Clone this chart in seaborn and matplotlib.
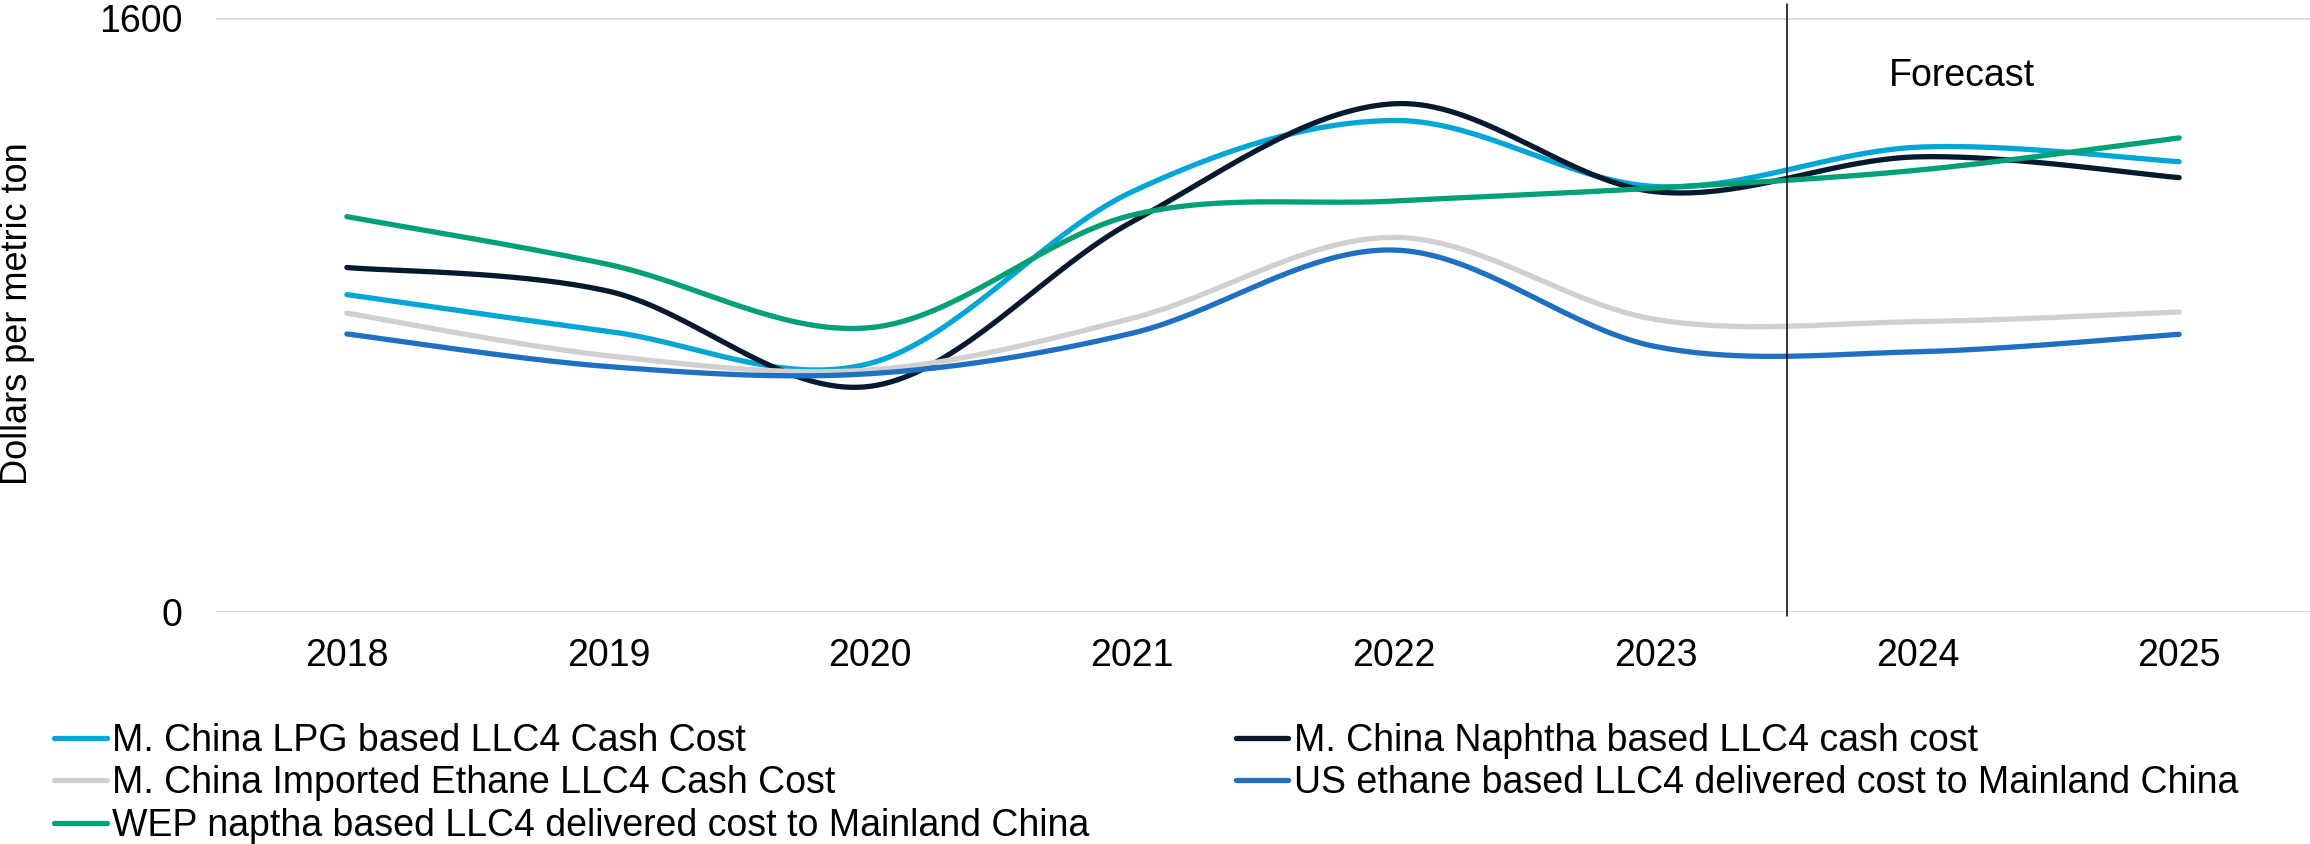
import numpy as np
import pandas as pd
import matplotlib
matplotlib.use("Agg")
import matplotlib.pyplot as plt
import seaborn as sns

years = ["2018", "2019", "2020", "2021", "2022", "2023", "2024", "2025"]
lpg = [855, 756, 670, 1132, 1324, 1146, 1252, 1213]
naphtha = [928, 864, 608, 1051, 1369, 1132, 1226, 1170]
ethane_imp = [805, 690, 652, 791, 1009, 788, 782, 808]
us_ethane = [749, 661, 642, 751, 975, 715, 701, 748]
wep = [1065, 936, 766, 1069, 1107, 1142, 1190, 1277]

labels = [
    "M. China LPG based LLC4 Cash Cost",
    "M. China Naphtha based LLC4 cash cost",
    "M. China Imported Ethane LLC4 Cash Cost",
    "US ethane based LLC4 delivered cost to Mainland China",
    "WEP naptha based LLC4 delivered cost to Mainland China",
]
colors = ["#00A6D6", "#051A2E", "#D0D1CF", "#1F6FC2", "#00A176"]
series = [lpg, naphtha, ethane_imp, us_ethane, wep]

sns.set_theme(style="white")
plt.rcParams["font.family"] = ["Liberation Sans", "DejaVu Sans"]
plt.rcParams["text.color"] = "black"
plt.rcParams["xtick.color"] = "black"
plt.rcParams["ytick.color"] = "black"
FS = 27
LW = 3.8


def smooth(x, y, n=40):
    """Excel-style smoothed line (cubic Bezier with 1/6 tangents)."""
    x = np.asarray(x, float)
    y = np.asarray(y, float)
    P = np.column_stack([x, y])
    m = len(P)
    out = []
    t = np.linspace(0, 1, n)[:, None]
    for i in range(m - 1):
        p0 = P[i]
        p3 = P[i + 1]
        pm = P[i - 1] if i > 0 else P[i]
        pp = P[i + 2] if i + 2 < m else P[i + 1]
        c1 = p0 + (p3 - pm) / 6.0
        c2 = p3 - (pp - p0) / 6.0
        seg = ((1 - t) ** 3) * p0 + 3 * ((1 - t) ** 2) * t * c1 + 3 * (1 - t) * t ** 2 * c2 + t ** 3 * p3
        if i > 0:
            seg = seg[1:]
        out.append(seg)
    out = np.vstack(out)
    return out[:, 0], out[:, 1]


fig = plt.figure(figsize=(23.1, 8.44), dpi=100)
ax = fig.add_axes([216 / 2310, 1 - 612 / 844, 1 - 216 / 2310, (612 - 18) / 844])

xpos = np.arange(len(years))
for vals, lab, col in zip(series, labels, colors):
    sx, sy = smooth(xpos, vals)
    df = pd.DataFrame({"x": sx, "y": sy})
    sns.lineplot(data=df, x="x", y="y", ax=ax, color=col, linewidth=LW, label=lab,
                 sort=False, estimator=None)

for ln in ax.lines:
    ln.set_linewidth(LW)
    ln.set_solid_capstyle("round")
    ln.set_solid_joinstyle("round")

ax.set_xlim(-0.5, len(years) - 0.5)
ax.set_ylim(0, 1600)
ax.set_xticks(xpos)
ax.set_xticklabels(years)
ax.set_yticks([0, 1600])
ax.set_yticklabels(["0", "1600"])
ax.tick_params(axis="x", labelsize=FS, pad=19, length=0, colors="black")
ax.tick_params(axis="y", labelsize=FS, pad=24, length=0, colors="black")
for s in ax.spines.values():
    s.set_visible(False)
ax.yaxis.grid(True, color="#D9D9D9", lw=2.0)
ax.xaxis.grid(False)
ax.set_axisbelow(True)
ax.set_xlabel("")
ax.set_ylabel("")

# forecast divider
ax.axvline(5.5, ymin=-0.007, ymax=1.024, color="black", lw=1.1, clip_on=False)
ax.text(6.17, 1445, "Forecast", fontsize=FS, ha="center", va="center", color="black")

fig.text(18 / 2310, 1 - 314 / 844, "Dollars per metric ton", rotation=90,
         fontsize=26, ha="center", va="center", color="black")

handles, labs = ax.get_legend_handles_labels()
ax.get_legend().remove()
order = [0, 2, 4, 1, 3]
leg = fig.legend([handles[i] for i in order], [labs[i] for i in order],
                 loc="upper left", bbox_to_anchor=(54 / 2310, 1 - 723 / 844),
                 ncol=2, frameon=False, fontsize=FS, handlelength=1.4,
                 handletextpad=0.15, labelspacing=0.17, columnspacing=3.9,
                 borderpad=0, borderaxespad=0)
for ln in leg.get_lines():
    ln.set_linewidth(LW)
    ln.set_solid_capstyle("round")

fig.savefig("out.png", dpi=100)
